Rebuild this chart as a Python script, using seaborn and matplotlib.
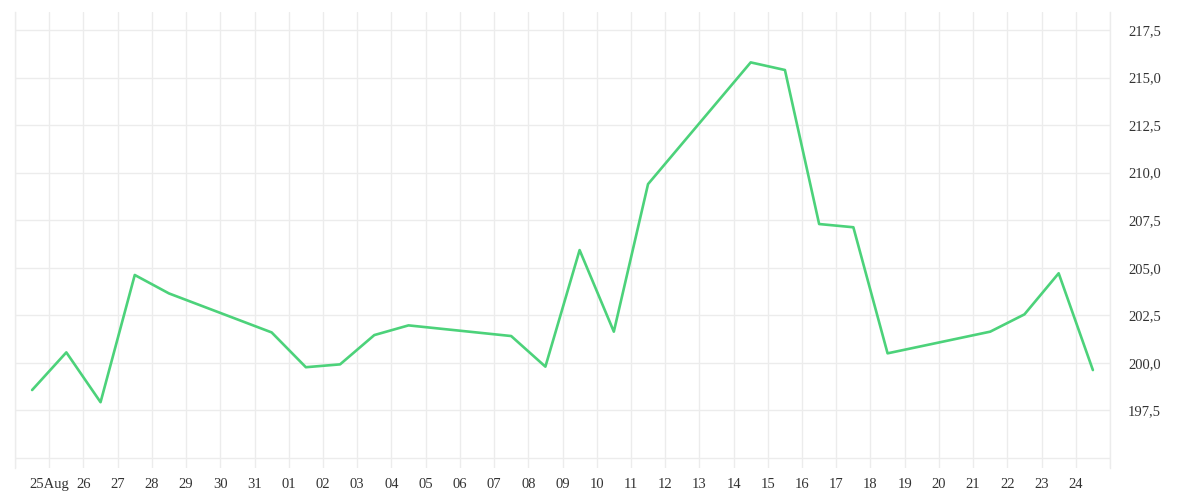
import pandas as pd
import numpy as np
import seaborn as sns
import matplotlib.pyplot as plt

# trading days (weekends missing)
dates = ["2020-08-24", "2020-08-25", "2020-08-26", "2020-08-27", "2020-08-28",
         "2020-08-31", "2020-09-01", "2020-09-02", "2020-09-03", "2020-09-04",
         "2020-09-07", "2020-09-08", "2020-09-09", "2020-09-10", "2020-09-11",
         "2020-09-14", "2020-09-15", "2020-09-16", "2020-09-17", "2020-09-18",
         "2020-09-21", "2020-09-22", "2020-09-23", "2020-09-24"]
prices = [198.57, 200.55, 197.93, 204.62, 203.65,
          201.60, 199.77, 199.92, 201.46, 201.97,
          201.41, 199.80, 205.93, 201.64, 209.40,
          215.80, 215.40, 207.30, 207.13, 200.50,
          201.64, 202.55, 204.71, 199.62]

x_labels = ["", "25Aug", "26", "27", "28", "29", "30", "31",
            "01", "02", "03", "04", "05", "06", "07", "08", "09", "10",
            "11", "12", "13", "14", "15", "16", "17", "18", "19", "20",
            "21", "22", "23", "24", ""]
y_ticks = [195.0, 197.5, 200.0, 202.5, 205.0, 207.5, 210.0, 212.5, 215.0, 217.5]
y_labels = ["", "197,5", "200,0", "202,5", "205,0", "207,5", "210,0", "212,5", "215,0", "217,5"]

df = pd.DataFrame({"date": pd.to_datetime(dates), "price": prices})
df["day"] = (df["date"] - df["date"].iloc[0]).dt.days

sns.set_theme(style="white")
plt.rcParams["font.family"] = ["Liberation Serif", "DejaVu Serif"]

fig = plt.figure(figsize=(12, 5), dpi=100)
ax = fig.add_axes([0.0125, 0.064, 0.9125, 0.912])

sns.lineplot(data=df, x="day", y="price", color="#4cd27a", linewidth=1.9, ax=ax)

grid_c = "#ececec"
ax.set_xlim(-0.5, 31.5)
ax.set_ylim(194.47, 218.45)
ax.set_xticks(np.arange(len(x_labels)) - 0.5)
ax.set_xticklabels(x_labels)
ax.set_yticks(y_ticks)
ax.set_yticklabels(y_labels, va="center_baseline")
ax.yaxis.tick_right()
ax.grid(True, color=grid_c, linewidth=1)
ax.set_axisbelow(True)
for side in ["top", "bottom"]:
    ax.spines[side].set_visible(False)
for side in ["left", "right"]:
    ax.spines[side].set_color(grid_c)
    ax.spines[side].set_linewidth(1)
ax.tick_params(axis="x", length=0, pad=7, labelsize=10.5, labelcolor="#333333")
ax.tick_params(axis="y", length=0, pad=13, labelsize=10.5, labelcolor="#333333")
ax.set_xlabel("")
ax.set_ylabel("")

plt.savefig("out.png", dpi=100)
